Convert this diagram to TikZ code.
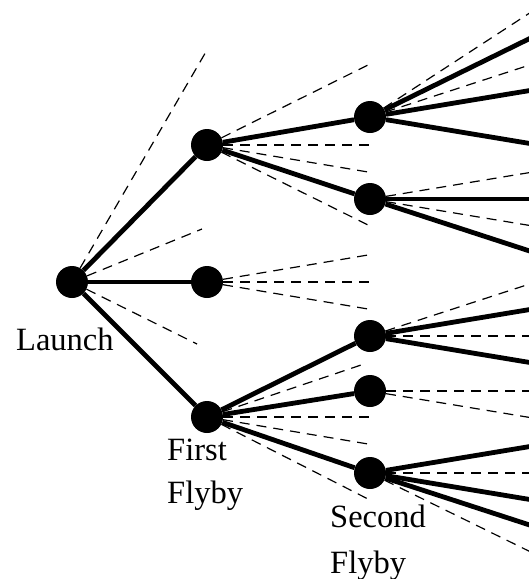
\documentclass[tikz,border=0pt]{standalone}
\usepackage{fontspec}
\setmainfont{Liberation Serif}
\pgfdeclarelayer{lines}
\pgfsetlayers{lines,main}
\begin{document}
\begin{tikzpicture}[x=1pt,y=-1pt,
  stage/.style={circle,fill=black,minimum size=32pt,inner sep=0pt},
  leg/.style={line width=4.8pt},
  alt/.style={line width=1.2pt,dash pattern=on 10pt off 7pt},
  lbl/.style={font=\fontsize{32.5}{40}\selectfont,inner sep=0pt,anchor=base west}]
\useasboundingbox (0,0) rectangle (529,579);
\clip (0,0) rectangle (529,579);

% encounter points
\node[stage] (L)  at (72,282)  {};
\node[stage] (A)  at (207,145) {};
\node[stage] (B)  at (207,282) {};
\node[stage] (C)  at (207,417) {};
\node[stage] (A1) at (370,117) {};
\node[stage] (A2) at (370,199) {};
\node[stage] (C1) at (370,336) {};
\node[stage] (C2) at (370,391) {};
\node[stage] (C3) at (370,473) {};

% ends of the unexplored branches
\coordinate (Lx1) at (207,50);
\coordinate (Lx2) at (202,229);
\coordinate (Lx3) at (197,344);
\coordinate (Ax1) at (370,64);
\coordinate (Ax2) at (370,145);
\coordinate (Ax3) at (368,172);
\coordinate (Ax4) at (370,226);
\coordinate (Bx1) at (368,255);
\coordinate (Bx2) at (370,282);
\coordinate (Bx3) at (368,309);
\coordinate (Cx1) at (367,363);
\coordinate (Cx2) at (370,417);
\coordinate (Cx3) at (368,444);
\coordinate (Cx4) at (368,499);

% third-level branches running off the right edge
\coordinate (P1) at (545,3);
\coordinate (P2) at (545,31);
\coordinate (P3) at (545,60);
\coordinate (P4) at (545,88);
\coordinate (P5) at (545,146);
\coordinate (Q1) at (545,170);
\coordinate (Q2) at (545,199);
\coordinate (Q3) at (545,228);
\coordinate (Q4) at (545,256);
\coordinate (R1) at (545,279);
\coordinate (R2) at (545,307);
\coordinate (R3) at (545,336);
\coordinate (R4) at (545,365);
\coordinate (S1) at (545,391);
\coordinate (S2) at (545,420);
\coordinate (T1) at (545,444);
\coordinate (T2) at (545,473);
\coordinate (T3) at (545,502);
\coordinate (T4) at (545,530);
\coordinate (T5) at (545,559);

\begin{pgfonlayer}{lines}
  % chosen trajectory legs
  \draw[leg] (L) -- (A);
  \draw[leg] (L) -- (B);
  \draw[leg] (L) -- (C);
  \draw[leg] (A) -- (A1);
  \draw[leg] (A) -- (A2);
  \draw[leg] (C) -- (C1);
  \draw[leg] (C) -- (C2);
  \draw[leg] (C) -- (C3);
  \draw[leg] (A1) -- (P2);
  \draw[leg] (A1) -- (P4);
  \draw[leg] (A1) -- (P5);
  \draw[leg] (A2) -- (Q2);
  \draw[leg] (A2) -- (Q4);
  \draw[leg] (C1) -- (R2);
  \draw[leg] (C1) -- (R4);
  \draw[leg] (C3) -- (T1);
  \draw[leg] (C3) -- (T3);
  \draw[leg] (C3) -- (T4);
  % discarded options
  \draw[alt] (L) -- (Lx1);
  \draw[alt] (L) -- (Lx2);
  \draw[alt] (L) -- (Lx3);
  \draw[alt] (A) -- (Ax1);
  \draw[alt] (A) -- (Ax2);
  \draw[alt] (A) -- (Ax3);
  \draw[alt] (A) -- (Ax4);
  \draw[alt] (B) -- (Bx1);
  \draw[alt] (B) -- (Bx2);
  \draw[alt] (B) -- (Bx3);
  \draw[alt] (C) -- (Cx1);
  \draw[alt] (C) -- (Cx2);
  \draw[alt] (C) -- (Cx3);
  \draw[alt] (C) -- (Cx4);
  \draw[alt] (A1) -- (P1);
  \draw[alt] (A1) -- (P3);
  \draw[alt] (A2) -- (Q1);
  \draw[alt] (A2) -- (Q3);
  \draw[alt] (C1) -- (R1);
  \draw[alt] (C1) -- (R3);
  \draw[alt] (C2) -- (S1);
  \draw[alt] (C2) -- (S2);
  \draw[alt] (C3) -- (T2);
  \draw[alt] (C3) -- (T5);
\end{pgfonlayer}

% stage labels
\node[lbl] (launch)  at (16,350)  {Launch};
\node[lbl] (first)   at (167,460) {First};
\node[lbl] (firstb)  at (167,503) {Flyby};
\node[lbl] (second)  at (330,527) {Second};
\node[lbl] (secondb) at (330,573) {Flyby};
\end{tikzpicture}
\end{document}
